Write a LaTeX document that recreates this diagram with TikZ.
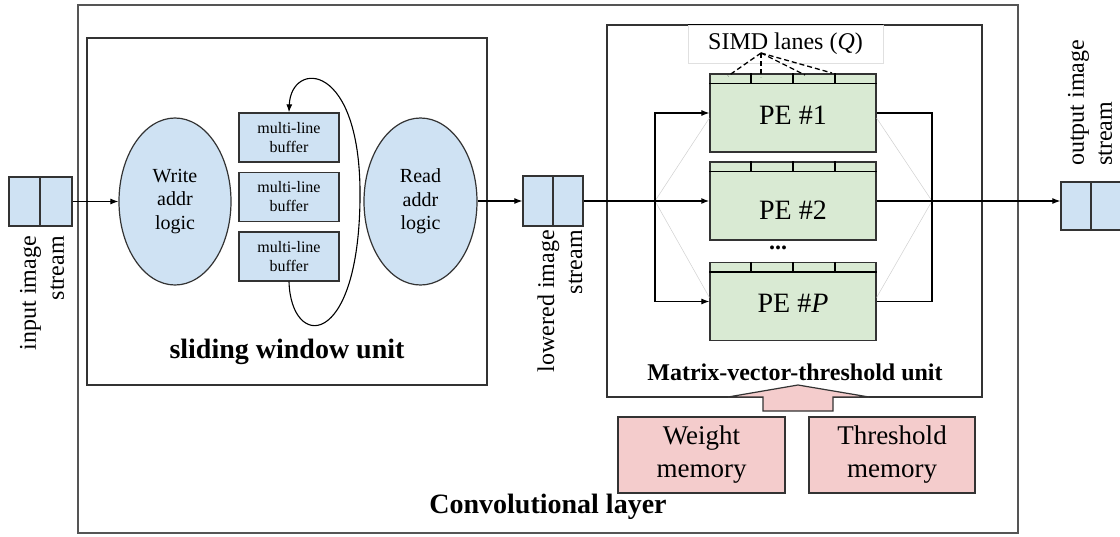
\documentclass[tikz,border=0pt]{standalone}
\usepackage{fontspec}
\setmainfont{Liberation Serif}
\usetikzlibrary{shapes.geometric,arrows.meta,calc}
\definecolor{bluef}{HTML}{CFE2F3}
\definecolor{greenf}{HTML}{D9EAD3}
\definecolor{pinkf}{HTML}{F4CCCC}
\definecolor{edgec}{HTML}{333333}
\definecolor{framec}{HTML}{555555}
\newcommand{\fsz}[2]{\fontsize{#1}{#2}\selectfont}
\begin{document}
\begin{tikzpicture}[x=1pt,y=-1pt,
  frame/.style={draw=framec, line width=1.3pt, inner sep=0pt},
  sbox/.style={draw=edgec, fill=bluef, line width=1.3pt, inner sep=0pt},
  ell/.style={ellipse, draw=edgec, fill=bluef, line width=1.2pt, inner sep=0pt, align=center, font=\fsz{20}{23.5}},
  buf/.style={draw=edgec, fill=bluef, line width=1.3pt, inner sep=0pt, minimum width=100, minimum height=49, align=center, font=\fsz{16}{19}},
  pe/.style={draw=edgec, fill=greenf, line width=1.2pt, inner sep=0pt, minimum width=166, minimum height=78},
  petext/.style={font=\fsz{28}{30}, inner sep=0pt},
  mem/.style={draw=edgec, fill=pinkf, line width=1.2pt, inner sep=0pt, minimum width=167, minimum height=76, align=center, font=\fsz{27}{33}},
  conn/.style={draw=black, line width=1.1pt},
  arr/.style={conn, -{Latex[length=8pt,width=6pt]}},
  faint/.style={draw=black!18, line width=0.5pt},
  lane/.style={draw=black, line width=1.3pt, dash pattern=on 5pt off 3pt},
  rlabel/.style={rotate=90, inner sep=0pt, font=\fsz{24}{28}},
  title/.style={font=\bfseries\fsz{28}{32}, inner sep=0pt}
]
\useasboundingbox (0,0) rectangle (1120,536);
\fill[white] (0,0) rectangle (1120,536);

% frames
\node[frame, minimum width=940, minimum height=528] (outer) at (548,269) {};
\node[frame, draw=edgec, minimum width=400, minimum height=347] (swu) at (287,211.5) {};
\node[frame, draw=edgec, minimum width=375, minimum height=372] (mvu) at (794.5,211) {};

% input stream
\node[sbox, minimum width=31, minimum height=49] (in1) at (24.5,201.5) {};
\node[sbox, minimum width=32, minimum height=49] (in2) at (56,201.5) {};
\node[rlabel, anchor=east, align=right] (inl) at (42,236) {input image\\stream};

% sliding window unit
\node[ell, minimum width=112, minimum height=167] (wr) at (175,201.5) {Write\\addr\\logic};
\node[ell, minimum width=113, minimum height=167] (rd) at (420.5,201.5) {Read\\addr\\logic};
\node[buf] (b1) at (289,137.5) {multi-line\\buffer};
\node[buf] (b2) at (289,197) {multi-line\\buffer};
\node[buf] (b3) at (289,256.5) {multi-line\\buffer};
\coordinate (lp) at (360,200);
\draw[conn, -{Latex[length=8pt,width=6pt]}] (b3.south) .. controls (291,350) and (358,350) .. (lp) .. controls (362,60) and (291,60) .. (b1.north);
\node[title] (swut) at (287,352) {sliding window unit};

\draw[arr] (in2.east) -- (in2.east -| wr.west);

% lowered stream
\node[sbox, minimum width=30, minimum height=50] (lo1) at (538,201) {};
\node[sbox, minimum width=30, minimum height=50] (lo2) at (568,201) {};
\node[rlabel, anchor=east, align=right] (lol) at (560,230) {lowered image\\stream};
\draw[arr] (rd.east |- lo1.west) -- (lo1.west);

% PEs
\node[pe] (pe1) at (793,113) {};
\node[pe] (pe2) at (793,201) {};
\node[pe] (peP) at (793,301.5) {};
\foreach \p in {pe1,pe2,peP}{
  \draw[line width=1.5pt] ([yshift=-10pt]\p.north west) -- ([yshift=-10pt]\p.north east);
  \foreach \f in {0.25,0.5,0.75}{
    \draw[line width=1.5pt] ($(\p.north west)!\f!(\p.north east)$) -- ++(0,10);
  }
}
\node[petext] (pe1t) at (793,115) {PE \#1};
\node[petext] (pe2t) at (793,210) {PE \#2};
\node[petext] (pePt) at (793,303) {PE \#\textit{P}};
\node[font=\bfseries\fsz{24}{28}, inner sep=0pt] (dots) at (778,248) {...};

% SIMD label
\node[draw=black!12, line width=0.6pt, fill=white, minimum width=195, minimum height=38, inner sep=0pt, font=\fsz{24}{28}] (simd) at (785.5,44) {SIMD lanes (\textit{Q})};
\draw[line width=1.3pt] (simd.north west) -- (simd.north east);
\coordinate (hub) at (761,53);
\coordinate (l1) at (728,76);
\coordinate (l2) at (761,77);
\coordinate (l3) at (805,75);
\coordinate (l4) at (832,73);
\foreach \l in {l1,l2,l3,l4}{ \draw[lane] (hub) -- (\l); }

% faint hexagon
\coordinate (lj) at (655,201);
\coordinate (rj) at (932,201);
\draw[faint] ([yshift=-5pt]pe1.west) -- (lj |- pe2.west) -- ([yshift=4pt]peP.west);
\draw[faint] ([yshift=-5pt]pe1.east) -- (rj |- pe2.east) -- ([yshift=4pt]peP.east);

% PE connections
\draw[conn, line width=1.6pt, -{Latex[length=8pt,width=6pt]}] (lo2.east) -- (pe2.west);
\draw[arr] (lj |- pe2.west) |- (pe1.west);
\draw[arr] (lj |- pe2.west) |- (peP.west);
\draw[conn] (pe1.east) -| (rj |- peP.east) -- (peP.east);

% output stream
\node[sbox, minimum width=30, minimum height=48] (ou1) at (1076,206) {};
\node[sbox, minimum width=31, minimum height=48] (ou2) at (1106.5,206) {};
\node[rlabel, anchor=west, align=left] (oul) at (1090,166) {output image\\stream};
\draw[arr] (pe2.east) -- (pe2.east -| ou1.west);

\node[title, font=\bfseries\fsz{24}{28}] (mvut) at (795,372) {Matrix-vector-threshold unit};

% memories
\node[mem] (wm) at (701.5,455) {Weight\\memory};
\node[mem, minimum width=166] (tm) at (892,455) {Threshold\\memory};
\draw[fill=pinkf, draw=edgec, line width=1.2pt] (763,411) -- (763,397) -- (728,397) -- (798,385) -- (869,397) -- (833,397) -- (833,411) -- cycle;

\node[title] (convt) at (548,507) {Convolutional layer};
\end{tikzpicture}
\end{document}
